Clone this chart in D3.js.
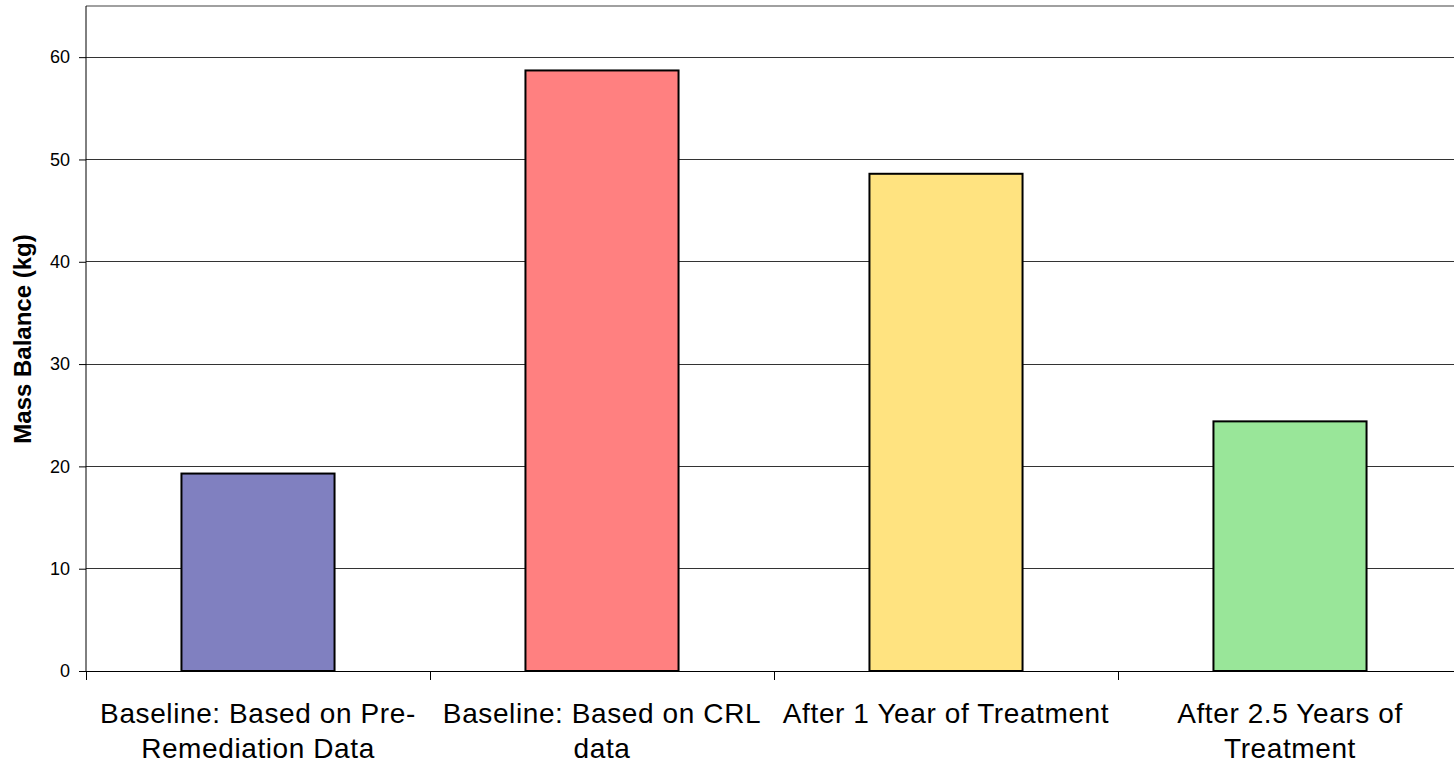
<!DOCTYPE html>
<html lang="en">
<head>
  <meta charset="UTF-8">
  <title>Mass Balance</title>
  <script src="https://cdn.jsdelivr.net/npm/d3@7"></script>
  <style>
    body { margin: 0; background: #fff; }
    text { font-family: "Liberation Sans", Arial, sans-serif; }
  </style>
</head>
<body>
  <svg width="1454" height="765"></svg>
<script>
  // data
  const categories = [
    'Baseline: Based on Pre-\nRemediation Data',
    'Baseline: Based on CRL\ndata',
    'After 1 Year of Treatment',
    'After 2.5 Years of\nTreatment'
  ]
  const values = [19.3, 58.7, 48.6, 24.4]
  const colors = ['#8080c0', '#ff8080', '#ffe380', '#99e699']
  const yTicks = [0, 10, 20, 30, 40, 50, 60]

  const svg = d3.select('svg')
  const margin = { top: 6, left: 86, bottom: 94 }
  const plotW = 344 * 4
  const innerHeight = 765 - margin.top - margin.bottom

  const xScale = d3.scaleBand()
    .domain(categories)
    .range([0, plotW])
    .paddingInner(0)
    .paddingOuter(0)

  const yScale = d3.scaleLinear()
    .domain([0, 65])
    .range([innerHeight, 0])

  const g = svg.append('g')
    .attr('transform', `translate(${margin.left},${margin.top})`)

  // top border
  g.append('line')
    .attr('x1', 0).attr('x2', plotW)
    .attr('y1', 0).attr('y2', 0)
    .attr('stroke', '#808080')
    .attr('stroke-width', 1.5)

  // gridlines
  g.append('g')
    .selectAll('line')
    .data(yTicks.filter(d => d > 0))
    .join('line')
    .attr('x1', 0).attr('x2', plotW)
    .attr('y1', d => yScale(d)).attr('y2', d => yScale(d))
    .attr('stroke', '#333')
    .attr('stroke-width', 1)
    .attr('shape-rendering', 'crispEdges')

  // y axis
  const yAxis = g.append('g')
    .call(d3.axisLeft(yScale).tickValues(yTicks).tickSize(7).tickPadding(9))
  yAxis.select('.domain').attr('stroke', '#000').attr('d', `M0,${innerHeight}V0`)
  yAxis.selectAll('.tick line').attr('stroke', '#000')
  yAxis.selectAll('.tick text')
    .attr('font-size', '18px')
    .attr('fill', '#000')
    .style('font-family', '"Liberation Sans", Arial, sans-serif')

  // x axis
  const xAxis = g.append('g')
    .attr('transform', `translate(0,${innerHeight})`)
  xAxis.append('line')
    .attr('x1', 0).attr('x2', plotW)
    .attr('stroke', '#000')
    .attr('shape-rendering', 'crispEdges')
  xAxis.selectAll('.sep')
    .data(d3.range(categories.length + 1))
    .join('line')
    .attr('class', 'sep')
    .attr('x1', i => i * xScale.step()).attr('x2', i => i * xScale.step())
    .attr('y1', 0).attr('y2', 9)
    .attr('stroke', '#000')
    .attr('shape-rendering', 'crispEdges')

  // bars
  const barW = xScale.bandwidth() * 0.445
  g.append('g')
    .selectAll('rect')
    .data(values)
    .join('rect')
    .attr('x', (d, i) => xScale(categories[i]) + (xScale.bandwidth() - barW) / 2)
    .attr('y', d => yScale(d))
    .attr('width', barW)
    .attr('height', d => innerHeight - yScale(d))
    .attr('fill', (d, i) => colors[i])
    .attr('stroke', '#000')
    .attr('stroke-width', 2)

  // category labels
  const labels = xAxis.selectAll('.clabel')
    .data(categories)
    .join('text')
    .attr('class', 'clabel')
    .attr('x', d => xScale(d) + xScale.bandwidth() / 2)
    .attr('y', 52)
    .attr('text-anchor', 'middle')
    .attr('font-size', '28px')
    .attr('letter-spacing', '0.6px')
    .attr('fill', '#000')
  labels.selectAll('tspan')
    .data(d => d.split('\n'))
    .join('tspan')
    .attr('x', function () { return this.parentNode.getAttribute('x') })
    .attr('dy', (d, i) => i === 0 ? 0 : 35)
    .text(d => d)

  // y title
  svg.append('text')
    .attr('transform', `translate(31,339) rotate(-90)`)
    .attr('text-anchor', 'middle')
    .attr('font-size', '24px')
    .attr('font-weight', 'bold')
    .attr('fill', '#000')
    .text('Mass Balance (kg)')
</script>
</body>
</html>
